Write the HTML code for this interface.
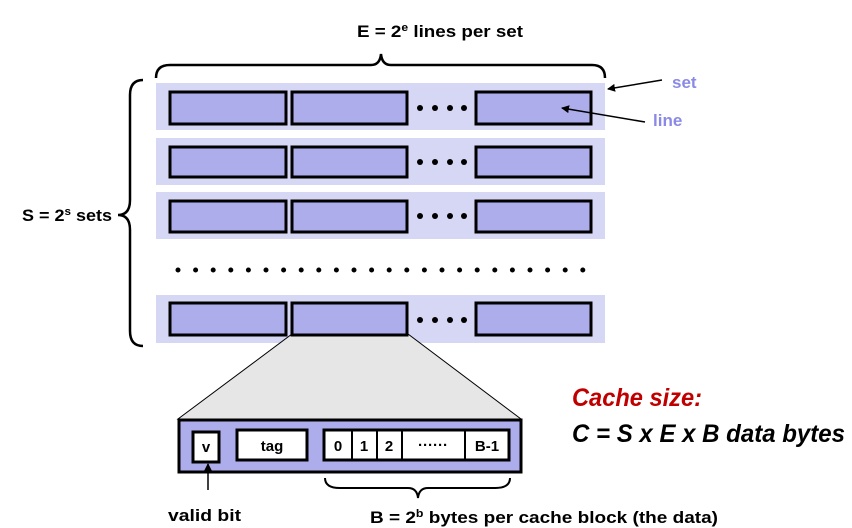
<!DOCTYPE html>
<html><head><style>body{margin:0;background:#fff}svg{display:block}</style></head><body>
<svg width="852" height="528" xmlns="http://www.w3.org/2000/svg" font-family="Liberation Sans, sans-serif" font-weight="bold">
<defs><marker id="a" markerWidth="8" markerHeight="8" refX="7" refY="4" orient="auto" markerUnits="userSpaceOnUse"><path d="M0,0 L8,4 L0,8 z" fill="#000"/></marker></defs>
<text x="357" y="37" font-size="17" textLength="166" lengthAdjust="spacingAndGlyphs">E = 2<tspan font-size="11" dy="-6">e</tspan><tspan dy="6"> lines per set</tspan></text>
<path d="M156,78 Q156,65 170,65 L371,65 Q380,65 381,54 Q382,65 391,65 L592,65 Q605,65 605,78" fill="none" stroke="#000" stroke-width="2.5"/>
<path d="M143,80 Q130,80 130,95 L130,200 Q130,215 118,215 Q130,215 130,230 L130,331 Q130,346 143,346" fill="none" stroke="#000" stroke-width="2.5"/>
<text x="22" y="221" font-size="17" textLength="90" lengthAdjust="spacingAndGlyphs">S = 2<tspan font-size="11" dy="-6">s</tspan><tspan dy="6"> sets</tspan></text>
<g stroke="#000" stroke-width="3" fill="#adadeb">
<rect x="156" y="83" width="449" height="47" fill="#d6d6f5" stroke="none"/>
<rect x="170" y="92" width="116" height="32"/><rect x="292" y="92" width="115" height="32"/><rect x="476" y="92" width="115" height="32"/>
<rect x="156" y="138" width="449" height="47" fill="#d6d6f5" stroke="none"/>
<rect x="170" y="147" width="116" height="30"/><rect x="292" y="147" width="115" height="30"/><rect x="476" y="147" width="115" height="30"/>
<rect x="156" y="192" width="449" height="47" fill="#d6d6f5" stroke="none"/>
<rect x="170" y="201" width="116" height="31"/><rect x="292" y="201" width="115" height="31"/><rect x="476" y="201" width="115" height="31"/>
<rect x="156" y="295" width="449" height="48" fill="#d6d6f5" stroke="none"/>
<path d="M292,334 L408,334 L521,419 L178,419 Z" fill="#e6e6e6" stroke="#000" stroke-width="1"/>
<rect x="170" y="303" width="116" height="32"/><rect x="292" y="303" width="115" height="32"/><rect x="476" y="303" width="115" height="32"/>
</g>
<g fill="#000">
<circle cx="420" cy="108" r="3"/><circle cx="435" cy="108" r="3"/><circle cx="450" cy="108" r="3"/><circle cx="464" cy="108" r="3"/>
<circle cx="420" cy="162" r="3"/><circle cx="435" cy="162" r="3"/><circle cx="450" cy="162" r="3"/><circle cx="464" cy="162" r="3"/>
<circle cx="420" cy="216" r="3"/><circle cx="435" cy="216" r="3"/><circle cx="450" cy="216" r="3"/><circle cx="464" cy="216" r="3"/>
<circle cx="420" cy="320" r="3"/><circle cx="435" cy="320" r="3"/><circle cx="450" cy="320" r="3"/><circle cx="464" cy="320" r="3"/>
</g>
<line x1="178" y1="270" x2="584" y2="270" stroke="#000" stroke-width="5" stroke-linecap="round" stroke-dasharray="0 17.6"/>
<line x1="662" y1="80" x2="608" y2="89" stroke="#000" stroke-width="1.5" marker-end="url(#a)"/>
<line x1="645" y1="122" x2="562" y2="108" stroke="#000" stroke-width="1.5" marker-end="url(#a)"/>
<text x="672" y="88" font-size="17" fill="#8a8ae6">set</text>
<text x="653" y="126" font-size="17" fill="#8a8ae6">line</text>
<rect x="179" y="420" width="342" height="52" fill="#adadeb" stroke="#000" stroke-width="3"/>
<g fill="#fff" stroke="#000" stroke-width="3">
<rect x="193" y="432" width="26" height="30"/>
<rect x="237" y="430" width="70" height="30"/>
<rect x="324" y="430" width="185" height="30"/>
</g>
<g stroke="#000" stroke-width="2"><line x1="352" y1="430" x2="352" y2="460"/><line x1="377" y1="430" x2="377" y2="460"/><line x1="402" y1="430" x2="402" y2="460"/><line x1="465" y1="430" x2="465" y2="460"/></g>
<g font-size="15" text-anchor="middle">
<text x="206" y="452">v</text><text x="272" y="451">tag</text><text x="338" y="451">0</text><text x="364" y="451">1</text><text x="389" y="451">2</text><text x="433" y="450">······</text><text x="487" y="451">B-1</text>
</g>
<line x1="208" y1="490" x2="208" y2="464" stroke="#000" stroke-width="1.5" marker-end="url(#a)"/>
<path d="M325,478 Q325,488 340,488 L408,488 Q417,488 418,498 Q419,488 428,488 L495,488 Q510,488 510,478" fill="none" stroke="#000" stroke-width="2"/>
<text x="168" y="521" font-size="17" textLength="73" lengthAdjust="spacingAndGlyphs">valid bit</text>
<text x="370" y="523" font-size="17" textLength="348" lengthAdjust="spacingAndGlyphs">B = 2<tspan font-size="11" dy="-6">b</tspan><tspan dy="6"> bytes per cache block (the data)</tspan></text>
<text x="572" y="406" font-size="25" font-style="italic" fill="#c00000" textLength="130" lengthAdjust="spacingAndGlyphs">Cache size:</text>
<text x="572" y="442" font-size="25" font-style="italic" fill="#000" textLength="273" lengthAdjust="spacingAndGlyphs">C = S x E x B data bytes</text>
</svg>
</body></html>
